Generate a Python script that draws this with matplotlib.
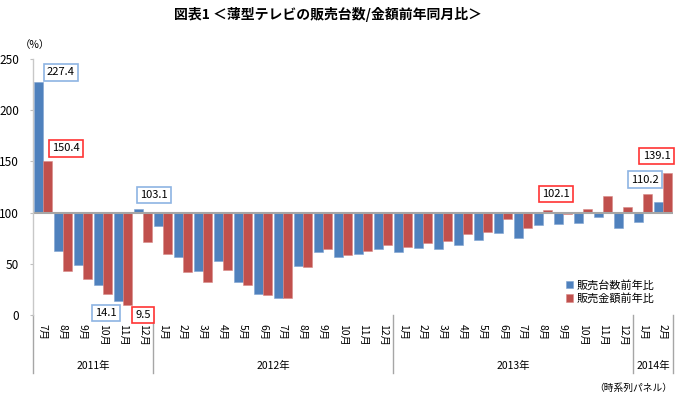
import matplotlib
matplotlib.use('Agg')
import matplotlib.pyplot as plt
import matplotlib.transforms as mtransforms
import numpy as np

plt.rcParams['font.family'] = ['Noto Sans CJK JP', 'DejaVu Sans']

# 2011年7月〜2014年2月
months = ['7月', '8月', '9月', '10月', '11月', '12月',
          '1月', '2月', '3月', '4月', '5月', '6月', '7月', '8月', '9月', '10月', '11月', '12月',
          '1月', '2月', '3月', '4月', '5月', '6月', '7月', '8月', '9月', '10月', '11月', '12月',
          '1月', '2月']
years = ['2011年', '2012年', '2013年', '2014年']
year_spans = [(0, 6), (6, 18), (18, 30), (30, 32)]

units_yoy = [227.4, 62.5, 48.5, 29.3, 14.1, 103.1,
             86.9, 56.6, 43.3, 53.0, 32.2, 20.2, 16.9, 47.5, 61.5, 56.3, 59.6, 64.1,
             61.5, 65.1, 64.1, 68.7, 73.2, 79.8, 74.9, 87.6, 88.9, 89.5, 96.0, 85.0,
             90.5, 110.2]
sales_yoy = [150.4, 43.0, 34.8, 20.2, 9.5, 71.3,
             59.2, 42.0, 32.2, 44.0, 29.3, 19.2, 16.9, 46.6, 64.0, 58.6, 62.5, 68.7,
             66.1, 70.6, 72.3, 78.8, 80.7, 93.4, 85.3, 102.1, 98.8, 103.2, 116.0, 105.5,
             117.8, 139.1]

blue = '#4F81BD'
red = '#C0504D'

fig = plt.figure(figsize=(6.77, 3.97), dpi=100)
ax = fig.add_axes([33 / 677, 1 - 315 / 397, 640 / 677, 256 / 397])

x = np.arange(len(months))
w = 0.45
base = 100
ax.bar(x - w / 2, np.array(units_yoy) - base, width=w, bottom=base, color=blue,
       edgecolor='#7FA3D1', linewidth=0.4, label='販売台数前年比')
ax.bar(x + w / 2, np.array(sales_yoy) - base, width=w, bottom=base, color=red,
       edgecolor='#D98A88', linewidth=0.4, label='販売金額前年比')

ax.axhline(base, color='#A6A6A6', linewidth=1.5, zorder=1)

ax.set_xlim(-0.5, len(months) - 0.5)
ax.set_ylim(0, 250)
ax.set_yticks([0, 50, 100, 150, 200, 250])
ax.tick_params(axis='y', labelsize=8.5, length=2, color='#C0C0C0', pad=8)
ax.set_xticks([])
for s in ['top', 'right', 'bottom']:
    ax.spines[s].set_visible(False)
ax.spines['left'].set_color('#C8C8C8')
ax.spines['left'].set_linestyle((0, (1, 1)))
ax.spines['left'].set_linewidth(1)

trans = mtransforms.blended_transform_factory(ax.transData, ax.transAxes)

# 月ラベル（縦書き）
for i, m in enumerate(months):
    ax.text(i, -0.035, m, transform=trans, rotation=-90, ha='center', va='top',
            fontsize=7.5)

# 年の区切り線とラベル
for (s, e), yl in zip(year_spans, years):
    ax.plot([s - 0.5, s - 0.5], [0, -0.225], transform=trans, color='#A6A6A6',
            linewidth=1, clip_on=False)
    ax.text((s + e - 1) / 2, -0.2, yl, transform=trans, ha='center', va='center',
            fontsize=7.5)
ax.plot([31.5, 31.5], [0, -0.225], transform=trans, color='#A6A6A6',
        linewidth=1, clip_on=False)

# 数値ラベル
labels = [
    (0.9, 237, '227.4', '#8EB4E3'),
    (1.15, 162.6, '150.4', '#FF3333'),
    (5.55, 117.2, '103.1', '#8EB4E3'),
    (3.15, 2, '14.1', '#8EB4E3'),
    (5.0, 0, '9.5', '#FF3333'),
    (25.65, 118.2, '102.1', '#FF3333'),
    (30.1, 132.3, '110.2', '#8EB4E3'),
    (30.68, 155.3, '139.1', '#FF3333'),
]
for lx, ly, t, ec in labels:
    ax.text(lx, ly, t, ha='center', va='center', fontsize=8, zorder=5, clip_on=False,
            bbox=dict(boxstyle='square,pad=0.3', facecolor='white', edgecolor=ec,
                      linewidth=1.2))

fig.legend(loc='upper left', bbox_to_anchor=(562 / 677, 1 - 275 / 397), frameon=False,
           fontsize=8, handlelength=0.6, handleheight=0.6, handletextpad=0.3,
           labelspacing=0.25, borderaxespad=0)

fig.text(328 / 677, 1 - 14 / 397, '図表1 ＜薄型テレビの販売台数/金額前年同月比＞',
         ha='center', va='center', fontsize=10, fontweight='bold')
fig.text(35 / 677, 1 - 45 / 397, '（%）', ha='center', va='center', fontsize=7.5)
fig.text(672 / 677, 1 - 388 / 397, '（時系列パネル）', ha='right', va='center', fontsize=7)

fig.savefig('out.png', dpi=100)
